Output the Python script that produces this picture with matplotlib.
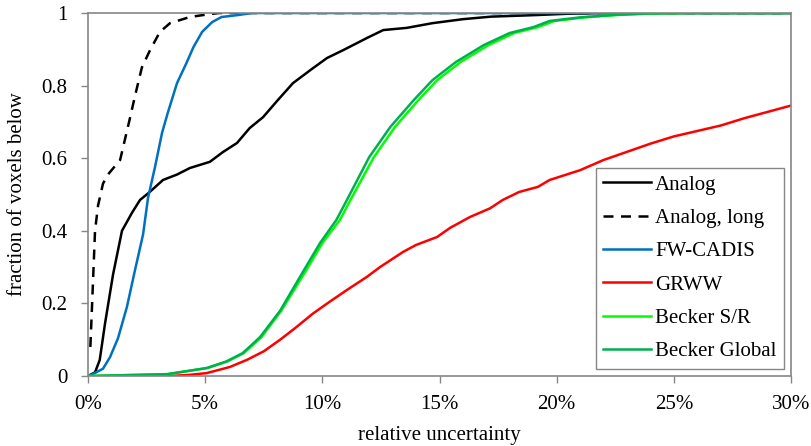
import numpy as np
import matplotlib
matplotlib.use("Agg")
import matplotlib.pyplot as plt
from matplotlib.ticker import FuncFormatter

# relative uncertainty (%) vs fraction of voxels below
analog_x = [0.0, 0.3, 0.5, 0.73, 1.07, 1.45, 1.88, 2.22, 2.6, 3.2, 3.8, 4.35, 5.2, 5.76,
            6.36, 6.9, 7.47, 8.1, 8.75, 9.6, 10.2, 10.9, 11.9, 12.6, 13.6, 14.7, 16.0,
            17.2, 19.0, 20.5, 22.0, 30.0]
analog_y = [0.0, 0.01, 0.044, 0.146, 0.28, 0.40, 0.45, 0.485, 0.505, 0.54, 0.555, 0.573,
            0.59, 0.617, 0.642, 0.683, 0.713, 0.76, 0.807, 0.848, 0.876, 0.898, 0.931,
            0.953, 0.959, 0.972, 0.983, 0.99, 0.994, 0.998, 1.0, 1.0]

along_x = [0.1, 0.17, 0.3, 0.43, 0.64, 0.85, 1.37, 1.8, 2.0, 2.3, 2.65, 3.07, 3.5, 4.35,
           5.2, 5.6, 30.0]
along_y = [0.08, 0.19, 0.40, 0.47, 0.53, 0.555, 0.595, 0.713, 0.77, 0.85, 0.898, 0.948,
           0.972, 0.989, 0.997, 1.0, 1.0]

fw_x = [0.0, 0.2, 0.64, 0.94, 1.28, 1.66, 2.0, 2.35, 2.56, 2.86, 3.16, 3.4, 3.8, 4.2,
        4.5, 4.87, 5.3, 5.7, 6.36, 7.0, 30.0]
fw_y = [0.0, 0.005, 0.02, 0.052, 0.104, 0.19, 0.29, 0.39, 0.49, 0.576, 0.67, 0.724,
        0.807, 0.862, 0.906, 0.948, 0.975, 0.989, 0.994, 1.0, 1.0]

grww_x = [1.8, 3.5, 4.3, 5.07, 6.06, 6.8, 7.5, 8.2, 8.8, 9.6, 10.3, 11.05, 11.9, 12.46,
          13.45, 14.0, 14.9, 15.45, 16.3, 17.16, 17.7, 18.4, 19.2, 19.7, 21.0, 22.0,
          24.0, 25.0, 27.0, 28.0, 30.0]
grww_y = [0.0, 0.0, 0.003, 0.008, 0.025, 0.045, 0.068, 0.10, 0.13, 0.172, 0.204, 0.237,
          0.273, 0.30, 0.342, 0.361, 0.383, 0.408, 0.438, 0.462, 0.485, 0.507, 0.521,
          0.54, 0.567, 0.595, 0.64, 0.66, 0.69, 0.71, 0.745]

bsr_x = [0.0, 3.4, 5.1, 5.95, 6.65, 7.4, 8.25, 9.3, 10.0, 10.75, 11.2, 12.2, 13.1, 14.1,
         14.9, 15.9, 17.1, 18.2, 19.2, 19.9, 21.2, 22.7, 24.2, 25.7, 30.0]
bsr_y = [0.0, 0.005, 0.022, 0.04, 0.063, 0.107, 0.18, 0.29, 0.366, 0.43, 0.485, 0.603,
         0.686, 0.76, 0.815, 0.865, 0.912, 0.945, 0.961, 0.978, 0.988, 0.995, 0.999,
         1.0, 1.0]

bgl_x = [0.0, 3.37, 5.07, 5.9, 6.6, 7.34, 8.2, 9.2, 9.9, 10.6, 11.05, 12.0, 12.9, 13.9,
         14.7, 15.7, 16.9, 18.0, 19.0, 19.7, 21.0, 22.5, 24.0, 25.5, 30.0]
bgl_y = [0.0, 0.005, 0.022, 0.04, 0.063, 0.107, 0.18, 0.29, 0.366, 0.43, 0.485, 0.603,
         0.686, 0.76, 0.815, 0.865, 0.912, 0.945, 0.961, 0.978, 0.988, 0.995, 0.999,
         1.0, 1.0]

plt.rcParams["font.family"] = ["Liberation Serif", "DejaVu Serif"]
plt.rcParams["font.size"] = 15

fig = plt.figure(figsize=(8.11, 4.46), dpi=100)
ax = fig.add_axes([88 / 811, 70 / 446, 703 / 811, 363 / 446])

lw = 1.8
ax.plot(analog_x, analog_y, color="black", lw=lw, label="Analog")
ax.plot(along_x, along_y, color="black", lw=lw, ls=(0, (4, 3)), label="Analog, long")
ax.plot(fw_x, fw_y, color="#0070C0", lw=lw, label="FW-CADIS")
ax.plot(grww_x, grww_y, color="#FF0000", lw=lw, label="GRWW")
ax.plot(bsr_x, bsr_y, color="#00FF00", lw=lw, label="Becker S/R")
ax.plot(bgl_x, bgl_y, color="#00B050", lw=lw, label="Becker Global")

ax.set_xlim(0, 30)
ax.set_ylim(0, 1)
ax.set_xticks(np.arange(0, 31, 5))
ax.set_yticks(np.arange(0, 1.01, 0.2))
ax.xaxis.set_major_formatter(FuncFormatter(lambda v, p: f"{v:.0f}%"))
ax.yaxis.set_major_formatter(FuncFormatter(lambda v, p: "0" if v == 0 else ("1" if v == 1 else f"{v:.1f}")))
ax.tick_params(direction="out", length=5, color="#868686", width=1)
ax.tick_params(axis="y", pad=10)
ax.tick_params(axis="x", pad=9)

for s in ax.spines.values():
    s.set_color("#868686")
    s.set_linewidth(1.2)

ax.set_xlabel("relative uncertainty", labelpad=8)
ax.set_ylabel("fraction of voxels below", labelpad=10)

leg = ax.legend(loc="lower right", fancybox=False, edgecolor="#868686", framealpha=1,
                handlelength=2.3, handletextpad=0.2, labelspacing=0.66,
                borderpad=0.35, borderaxespad=0.35)
leg.get_frame().set_linewidth(1.0)

fig.savefig("out.png", dpi=100)
